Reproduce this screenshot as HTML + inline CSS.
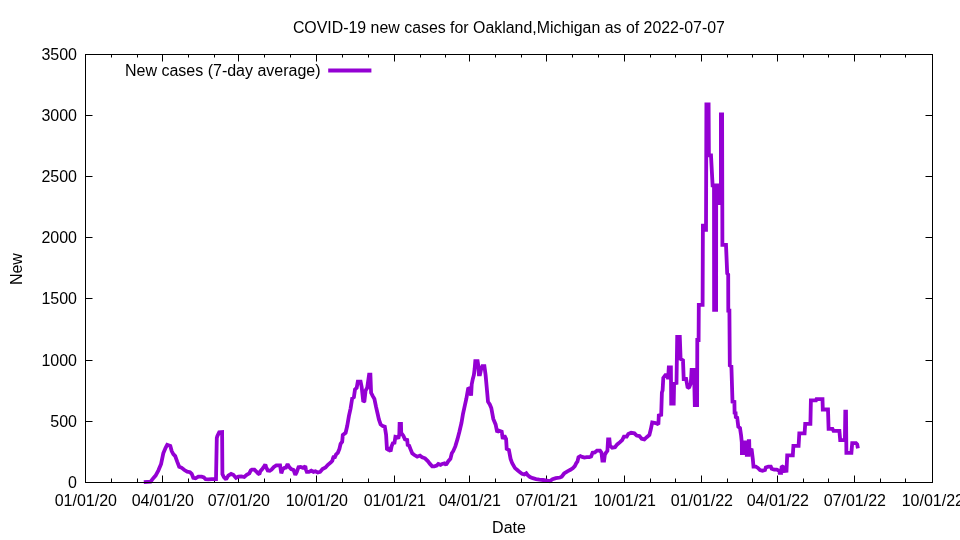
<!DOCTYPE html>
<html><head><meta charset="utf-8"><style>
html,body{margin:0;padding:0;background:#fff;}
svg{display:block;}
text{font-family:"Liberation Sans",Arial,sans-serif;font-size:16px;fill:#000;}
</style></head><body>
<svg width="960" height="540" viewBox="0 0 960 540">
<rect width="960" height="540" fill="#fff"/>
<path d="M162.5 482.5V475.5M162.5 54.5V61.5M238.5 482.5V475.5M238.5 54.5V61.5M316.5 482.5V475.5M316.5 54.5V61.5M394.5 482.5V475.5M394.5 54.5V61.5M469.5 482.5V475.5M469.5 54.5V61.5M546.5 482.5V475.5M546.5 54.5V61.5M624.5 482.5V475.5M624.5 54.5V61.5M701.5 482.5V475.5M701.5 54.5V61.5M777.5 482.5V475.5M777.5 54.5V61.5M854.5 482.5V475.5M854.5 54.5V61.5M111.5 482.5V478.5M111.5 54.5V57.5M137.5 482.5V478.5M137.5 54.5V57.5M188.5 482.5V478.5M188.5 54.5V57.5M214.5 482.5V478.5M214.5 54.5V57.5M264.5 482.5V478.5M264.5 54.5V57.5M290.5 482.5V478.5M290.5 54.5V57.5M342.5 482.5V478.5M342.5 54.5V57.5M368.5 482.5V478.5M368.5 54.5V57.5M420.5 482.5V478.5M420.5 54.5V57.5M445.5 482.5V478.5M445.5 54.5V57.5M495.5 482.5V478.5M495.5 54.5V57.5M521.5 482.5V478.5M521.5 54.5V57.5M572.5 482.5V478.5M572.5 54.5V57.5M598.5 482.5V478.5M598.5 54.5V57.5M650.5 482.5V478.5M650.5 54.5V57.5M675.5 482.5V478.5M675.5 54.5V57.5M727.5 482.5V478.5M727.5 54.5V57.5M752.5 482.5V478.5M752.5 54.5V57.5M803.5 482.5V478.5M803.5 54.5V57.5M828.5 482.5V478.5M828.5 54.5V57.5M880.5 482.5V478.5M880.5 54.5V57.5M905.5 482.5V478.5M905.5 54.5V57.5M85.5 421.5H92.5M932.5 421.5H925.5M85.5 360.5H92.5M932.5 360.5H925.5M85.5 298.5H92.5M932.5 298.5H925.5M85.5 237.5H92.5M932.5 237.5H925.5M85.5 176.5H92.5M932.5 176.5H925.5M85.5 115.5H92.5M932.5 115.5H925.5" stroke="#000" stroke-width="1" fill="none"/>
<path d="M143.8 482.2 L150.6 481.7 L153.3 478.1 L155.6 475.6 L158.3 470.6 L161.1 463.9 L163.3 453.3 L165.6 447.8 L167.2 444.8 L170.3 445.9 L171.7 451.1 L173.3 454.1 L175.2 456.1 L177.2 461.7 L179.2 466.7 L181.7 467.8 L184.4 470.0 L187.2 471.7 L190.0 472.2 L191.7 473.9 L193.3 477.8 L195.6 478.3 L198.3 476.7 L201.7 476.7 L203.9 477.4 L205.6 479.2 L208.3 479.4 L211.7 479.2 L216.0 479.2 L216.8 438.0 L217.3 436.2 L218.3 434.2 L219.2 432.3 L222.1 432.1 L222.4 474.0 L223.9 477.2 L226.1 479.4 L228.3 475.6 L231.1 473.9 L233.3 474.8 L236.0 477.9 L238.4 476.6 L241.3 476.3 L244.3 477.0 L246.7 474.9 L249.3 473.4 L250.8 470.4 L252.0 469.6 L254.4 469.6 L256.1 471.3 L257.9 473.4 L259.4 474.3 L260.3 471.3 L262.1 469.3 L263.6 467.2 L265.3 464.5 L266.2 467.2 L267.7 470.4 L269.8 470.7 L271.6 469.6 L273.9 466.9 L276.3 465.4 L280.1 465.4 L281.3 473.3 L282.8 469.0 L284.6 467.8 L286.0 467.5 L287.6 464.2 L289.3 467.2 L291.1 469.0 L293.5 469.9 L295.3 474.9 L296.7 472.2 L298.5 467.2 L300.6 466.9 L303.0 467.8 L305.3 466.2 L305.9 469.6 L306.8 471.9 L308.9 471.9 L311.3 470.7 L313.6 471.9 L315.4 471.3 L317.8 472.5 L320.1 471.9 L322.5 469.0 L325.5 467.5 L327.9 464.8 L330.8 462.4 L332.3 460.7 L333.2 457.7 L334.0 455.9 L334.4 458.3 L336.1 454.4 L337.8 452.8 L339.4 448.9 L340.6 443.9 L342.2 441.7 L342.8 435.0 L345.6 432.8 L347.2 426.0 L348.9 416.1 L350.6 408.3 L352.2 398.3 L353.9 397.2 L355.0 389.4 L356.7 387.8 L357.8 381.7 L360.6 381.7 L361.7 387.2 L363.3 401.7 L364.4 401.1 L365.6 390.6 L367.2 387.8 L369.1 374.6 L370.4 374.6 L371.1 392.8 L372.8 396.1 L374.4 398.9 L376.1 407.2 L377.8 414.5 L378.9 419.4 L380.6 424.4 L382.8 426.1 L384.8 426.7 L386.1 435.0 L387.0 450.0 L388.9 449.0 L390.6 451.5 L391.7 446.0 L392.8 443.3 L394.5 442.8 L395.4 436.8 L397.2 437.2 L398.3 438.5 L399.3 434.5 L399.6 424.0 L401.0 424.0 L401.2 432.8 L403.3 435.6 L405.0 439.4 L407.2 440.0 L407.8 446.0 L408.9 445.0 L410.6 449.4 L412.2 453.3 L414.4 455.0 L417.2 456.7 L420.0 455.6 L422.2 457.2 L425.0 458.3 L427.8 461.1 L430.0 463.9 L432.2 466.3 L434.4 466.3 L436.7 465.6 L438.3 463.9 L440.6 464.8 L442.2 463.9 L444.4 463.3 L446.1 464.8 L448.3 461.2 L450.4 458.9 L451.8 453.3 L453.2 451.2 L455.3 446.4 L457.4 439.4 L459.4 431.8 L461.5 422.8 L462.9 414.4 L464.7 406.1 L466.4 398.5 L468.1 388.9 L470.0 388.1 L471.1 395.6 L471.7 384.4 L472.8 378.9 L473.9 375.0 L474.7 368.3 L475.3 361.1 L477.6 361.1 L478.3 365.6 L478.9 374.4 L480.0 374.4 L481.1 369.4 L482.4 366.1 L484.4 366.1 L485.6 375.0 L486.7 387.2 L488.0 401.7 L489.8 404.4 L491.3 408.0 L493.3 418.9 L495.6 424.4 L497.2 432.2 L498.9 430.6 L501.7 431.7 L502.8 438.9 L504.4 435.6 L506.1 438.9 L506.7 448.9 L508.9 450.0 L510.6 458.9 L512.2 463.3 L515.0 468.1 L517.3 470.0 L519.7 472.1 L522.0 473.7 L524.4 474.4 L526.3 473.3 L527.7 475.1 L530.0 477.0 L532.8 478.2 L536.1 479.1 L539.4 479.6 L543.1 480.0 L546.9 480.5 L549.7 481.2 L552.5 479.3 L555.8 478.2 L560.0 477.5 L561.7 476.7 L564.1 473.5 L567.4 471.3 L570.4 469.8 L573.0 468.0 L574.8 466.1 L576.3 463.1 L577.4 461.7 L578.5 457.2 L580.4 456.1 L582.2 456.9 L584.4 457.6 L586.7 457.2 L589.3 457.2 L591.1 456.5 L592.6 452.8 L594.8 452.4 L597.0 450.6 L600.0 450.6 L601.5 452.8 L602.4 460.6 L604.1 460.6 L604.8 455.0 L605.9 452.8 L607.4 450.9 L608.1 439.4 L608.3 439.4 L609.4 439.4 L610.0 445.6 L612.2 447.8 L615.0 447.2 L617.2 444.4 L620.0 442.2 L622.2 440.0 L623.9 436.7 L626.7 436.7 L628.3 433.9 L631.1 432.8 L634.4 433.3 L636.7 435.6 L639.4 436.1 L641.7 438.7 L644.4 439.4 L646.7 437.2 L649.4 435.0 L650.8 429.3 L652.2 422.4 L655.6 423.1 L658.4 424.4 L658.8 415.4 L661.2 414.7 L661.9 392.5 L662.6 390.4 L663.3 377.9 L665.4 375.1 L667.4 375.1 L668.1 379.3 L668.8 367.5 L670.9 367.5 L671.2 403.5 L673.7 403.5 L674.1 383.5 L676.5 383.0 L677.2 337.0 L679.8 337.0 L680.6 359.0 L683.0 360.4 L683.7 379.0 L686.1 379.0 L687.7 388.0 L689.3 387.2 L690.8 383.3 L691.6 369.9 L694.0 369.9 L694.8 405.0 L697.1 405.0 L697.3 340.0 L698.6 340.0 L698.8 304.8 L702.6 304.8 L702.9 225.6 L704.6 225.6 L705.0 229.8 L706.0 229.8 L706.4 104.4 L708.6 104.4 L708.9 155.3 L711.0 155.3 L712.6 185.3 L714.0 185.3 L714.1 309.8 L716.1 309.8 L716.2 185.3 L718.5 185.3 L718.6 203.0 L720.9 203.0 L720.9 114.4 L722.1 114.4 L722.4 244.8 L726.0 244.8 L727.2 273.5 L728.2 274.5 L728.3 310.6 L729.4 310.6 L729.8 365.4 L731.4 366.4 L732.5 401.7 L734.4 402.0 L734.6 412.8 L735.6 413.0 L735.8 417.0 L737.2 417.8 L738.3 426.7 L740.0 428.0 L741.1 435.6 L741.8 442.4 L741.9 453.0 L744.5 453.0 L744.7 442.4 L746.6 442.4 L746.8 454.8 L748.5 454.8 L748.8 441.2 L749.2 441.2 L749.4 449.3 L751.7 450.0 L752.8 458.9 L753.5 466.7 L755.8 466.7 L757.9 467.9 L760.0 470.0 L762.5 470.8 L765.0 470.0 L765.8 467.5 L768.3 466.7 L770.8 466.7 L771.7 468.8 L774.2 469.6 L776.7 469.6 L779.2 470.8 L779.6 472.9 L781.2 472.9 L781.7 466.2 L782.9 466.7 L783.3 471.2 L786.5 470.8 L787.2 455.3 L792.8 455.3 L793.4 445.9 L798.6 445.9 L799.3 433.4 L804.6 433.4 L805.2 423.8 L810.4 423.8 L810.9 400.3 L816.0 400.3 L816.5 399.2 L822.5 399.2 L822.8 409.5 L828.0 409.5 L828.6 428.9 L832.5 428.9 L833.5 430.8 L839.4 430.8 L840.2 440.2 L844.9 440.2 L845.3 411.6 L846.0 411.6 L846.4 452.9 L851.4 452.9 L852.2 443.2 L856.0 443.2 L857.2 444.4 L857.9 448.3" stroke="#9400d3" stroke-width="3.8" fill="none" stroke-linejoin="miter" stroke-miterlimit="1.5" stroke-linecap="butt"/>
<rect x="85.5" y="54.5" width="847.0" height="428.0" stroke="#000" stroke-width="1" fill="none"/>
<text x="508.9" y="32.8" text-anchor="middle" textLength="432" lengthAdjust="spacingAndGlyphs">COVID-19 new cases for Oakland,Michigan as of 2022-07-07</text>
<text x="320.6" y="76" text-anchor="end">New cases (7-day average)</text>
<path d="M328.2 70.4H371.4" stroke="#9400d3" stroke-width="4" fill="none"/>
<g><text x="85.8" y="506.3" text-anchor="middle">01/01/20</text><text x="162.8" y="506.3" text-anchor="middle">04/01/20</text><text x="238.8" y="506.3" text-anchor="middle">07/01/20</text><text x="316.8" y="506.3" text-anchor="middle">10/01/20</text><text x="394.8" y="506.3" text-anchor="middle">01/01/21</text><text x="469.8" y="506.3" text-anchor="middle">04/01/21</text><text x="546.8" y="506.3" text-anchor="middle">07/01/21</text><text x="624.8" y="506.3" text-anchor="middle">10/01/21</text><text x="701.8" y="506.3" text-anchor="middle">01/01/22</text><text x="777.8" y="506.3" text-anchor="middle">04/01/22</text><text x="854.8" y="506.3" text-anchor="middle">07/01/22</text><text x="932.8" y="506.3" text-anchor="middle">10/01/22</text></g>
<g><text x="77" y="488.4" text-anchor="end">0</text><text x="77" y="427.4" text-anchor="end">500</text><text x="77" y="366.4" text-anchor="end">1000</text><text x="77" y="304.4" text-anchor="end">1500</text><text x="77" y="243.4" text-anchor="end">2000</text><text x="77" y="182.4" text-anchor="end">2500</text><text x="77" y="121.4" text-anchor="end">3000</text><text x="77" y="60.4" text-anchor="end">3500</text></g>
<text x="509" y="533" text-anchor="middle">Date</text>
<text transform="translate(22 269.1) rotate(-90)" text-anchor="middle">New</text>
</svg>
</body></html>
